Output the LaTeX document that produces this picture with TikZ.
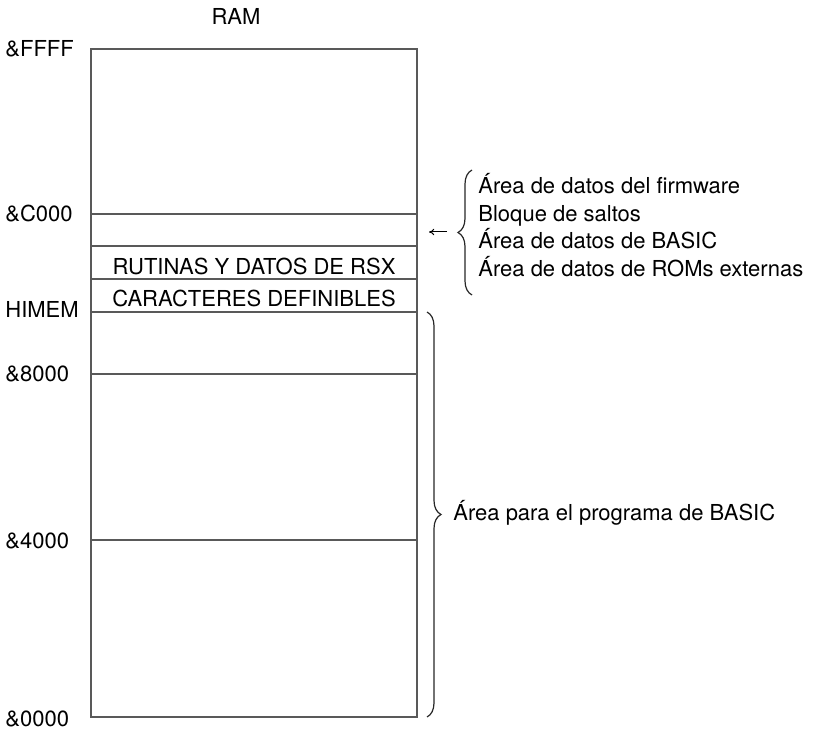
\documentclass[tikz,border=0pt]{standalone}
\usepackage{fontspec}
\setmainfont{TeX Gyre Heros}
\usetikzlibrary{arrows.meta, decorations.pathreplacing}

\begin{document}
\begin{tikzpicture}[
    x=0.5pt, y=-0.5pt,
    >={To[length=2.6pt, width=3.2pt]},
    font=\fontsize{11}{13}\selectfont,
    memline/.style={line width=0.55pt, black!65},
    addr/.style={anchor=base west, inner sep=0pt},
    area/.style={anchor=base west, inner sep=0pt},
    inbox/.style={anchor=base, inner sep=0pt},
    brace/.style={decorate, decoration={brace, amplitude=7pt}, line width=0.6pt, black!85},
    arrow/.style={->, line width=0.5pt}
  ]
    \useasboundingbox (0,0) rectangle (813,731);
    \node[inbox] (ram) at (236,25) {RAM};
    \coordinate (ramtop) at (91,49);
    \coordinate (rambot) at (417,717);
    \draw[memline] (ramtop) rectangle (rambot);
    \foreach \y/\n in {214/sc000, 246/sjump, 279/srsx, 312/shimem, 374/s8000, 540/s4000}
      \draw[memline] (91,\y) coordinate (\n) -- (417,\y);
    \foreach \y/\t/\n in {57/\&FFFF/lffff, 222/\&C000/lc000, 318/HIMEM/lhimem,
                          382/\&8000/l8000, 548/\&4000/l4000, 726/\&0000/l0000}
      \node[addr] (\n) at (5,\y) {\t};
    \node[inbox] (rsx) at (254,275) {RUTINAS Y DATOS DE RSX};
    \node[inbox] (udg) at (254,307) {CARACTERES DEFINIBLES};
    \draw[brace] (472,295) -- (472,170);
    \coordinate (ptr) at (447,232);
    \coordinate (ptrend) at (429,232);
    \draw[arrow] (ptr) -- (ptrend);
    \node[area] (fw) at (478,194) {Área de datos del firmware};
    \node[area] (jump) at (478,222) {Bloque de saltos};
    \node[area] (basic) at (478,249) {Área de datos de BASIC};
    \node[area] (roms) at (478,277) {Área de datos de ROMs externas};
    \draw[brace] (427,312) -- (427,717);
    \node[area] (prog) at (453,520) {Área para el programa de BASIC};
  \end{tikzpicture}
\end{document}
